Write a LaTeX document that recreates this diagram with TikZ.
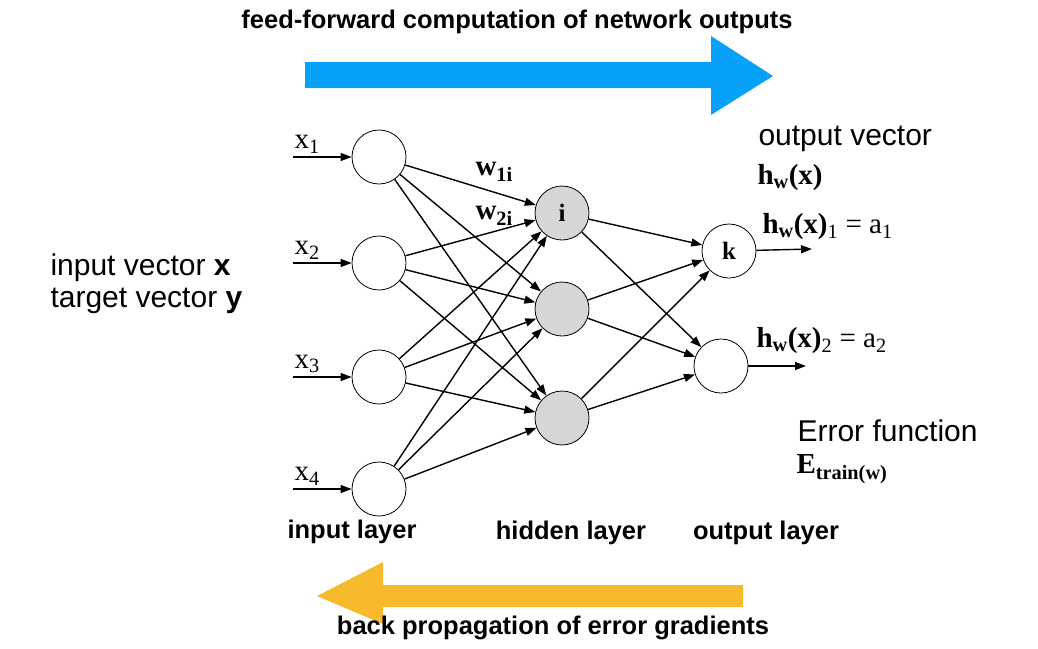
\documentclass[tikz,border=0pt]{standalone}
\usepackage{fontspec}
\setmainfont{Liberation Serif}
\setsansfont{Liberation Sans}
\usetikzlibrary{arrows.meta}
\definecolor{forwardblue}{RGB}{8,161,250}
\definecolor{backyellow}{RGB}{246,186,44}

\begin{document}
\begin{tikzpicture}[x=1pt, y=-1pt,
    unit/.style={circle, draw, line width=0.8pt, inner sep=0pt, minimum size=54pt,
                 font=\fontsize{25}{25}\selectfont\bfseries},
    hidden/.style={unit, fill=black!16},
    link/.style={line width=1.4pt, -{Triangle[length=11pt, width=8pt]}},
    layername/.style={font=\fontsize{25.5}{25.5}\selectfont\sffamily\bfseries},
    remark/.style={anchor=west, font=\fontsize{30}{30}\selectfont\sffamily},
    formula/.style={anchor=west, font=\fontsize{29}{29}\selectfont}]
  \useasboundingbox (0,0) rectangle (1038,648);

  % the two broad arrows, forward on top and backward at the bottom
  \fill[forwardblue] (305,62) -- (711,62) -- (711,36) -- (773,76) -- (711,115) -- (711,88) -- (305,88) -- cycle;
  \fill[backyellow]  (743,585) -- (383,585) -- (383,562) -- (317,596) -- (383,624) -- (383,607) -- (743,607) -- cycle;
  \node[layername] (fwd)  at (517,22)  {feed-forward computation of network outputs};
  \node[layername] (back) at (553,628) {back propagation of error gradients};

  % units of the three layers
  \foreach \j/\y in {1/157, 2/263, 3/377, 4/489} {
    \node[unit] (in\j) at (379,\y) {};
    \coordinate (x\j) at (293,\y);
    \node[formula] (xl\j) at (291,\y-13) {x\textsubscript{\j}};
    \draw[link] (x\j) -- (in\j);}
  \node[hidden] (hid1) at (562,213) {i};
  \node[hidden] (hid2) at (562,309) {};
  \node[hidden] (hid3) at (562,418) {};
  \node[unit]   (out1) at (729,251) {k};
  \node[unit]   (out2) at (721,366) {};

  % weights, every input to every hidden unit and every hidden to every output unit
  \foreach \a in {1,...,4} {
    \foreach \b in {1,2,3} {
      \draw[link] (in\a) -- (hid\b);}}
  \foreach \a in {1,2,3} {
    \foreach \b in {1,2} {
      \draw[link] (hid\a) -- (out\b);}}
  \node[formula] (w1) at (472,172) {\textbf{w\textsubscript{1i}}};
  \node[formula] (w2) at (472,216) {\textbf{w\textsubscript{2i}}};

  % outputs
  \coordinate (y1) at (812,249);
  \coordinate (y2) at (806,366);
  \draw[link] (out1) -- (y1);
  \draw[link] (out2) -- (y2);
  \node[formula] (h1) at (759,227) {\textbf{h\textsubscript{w}(x)}\textsubscript{1} = a\textsubscript{1}};
  \node[formula] (h2) at (753,341) {\textbf{h\textsubscript{w}(x)}\textsubscript{2} = a\textsubscript{2}};

  % side remarks
  \node[remark]  (invec)  at (47,268)  {input vector \textbf{x}};
  \node[remark]  (tgvec)  at (47,301)  {target vector \textbf{y}};
  \node[remark]  (outvec) at (755,139) {output vector};
  \node[formula] (hw)     at (754,178) {\textbf{h\textsubscript{w}(x)}};
  \node[remark]  (err)    at (794,431) {Error function};
  \node[formula] (etrain) at (793,469) {\textbf{E\textsubscript{train(w)}}};

  % layer names
  \node[layername] (inl)  at (352,532) {input layer};
  \node[layername] (hidl) at (571,533) {hidden layer};
  \node[layername] (outl) at (766,533) {output layer};
\end{tikzpicture}
\end{document}
